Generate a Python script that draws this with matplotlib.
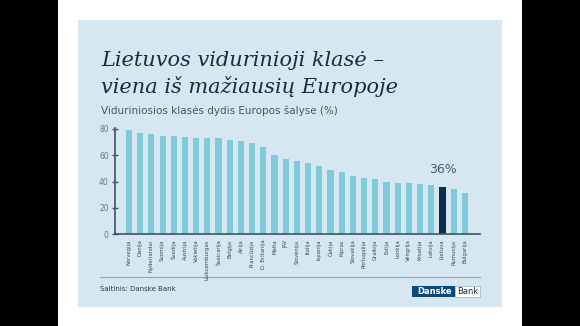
import matplotlib
matplotlib.use("Agg")
import matplotlib.pyplot as plt
from matplotlib.patches import Rectangle

W, H = 580, 326

# data
countries = ["Norvegija", "Danija", "Nyderlandai", "Suomija", "Švedija", "Austrija",
             "Vokietija", "Liuksemburgas", "Šveicarija", "Belgija", "Airija", "Prancūzija",
             "D. Britanija", "Malta", "JAV", "Slovėnija", "Italija", "Ispanija", "Čekija",
             "Kipras", "Slovakija", "Portugalija", "Graikija", "Estija", "Lenkija",
             "Vengrija", "Kroatija", "Latvija", "Lietuva", "Rumunija", "Bulgarija"]
values = [79, 77, 76, 75, 75, 74, 73, 73, 73, 72, 71, 69, 66, 60, 57, 56, 54, 52,
          49, 47, 44, 43, 42, 40, 39, 39, 38, 37, 36, 34, 31]
highlight = "Lietuva"
yticks = [0, 20, 40, 60, 80]

panel = "#d7e7f1"
bar_c = "#7fcbdc"
dark = "#0c2d4e"
axis_c = "#3d5369"

def px(x, y, w, h):
    # pixel box (top-left origin) -> figure fraction
    return (x / W, 1 - (y + h) / H, w / W, h / H)

fig = plt.figure(figsize=(W / 100, H / 100), dpi=100, facecolor="white")

# black side bars + light panel
for (x, y, w, h, c) in [(0, 0, 58, H, "black"), (522, 0, 58, H, "black"),
                        (78, 20, 424, 287, panel)]:
    l, b, ww, hh = px(x, y, w, h)
    fig.patches.append(Rectangle((l, b), ww, hh, transform=fig.transFigure,
                                 facecolor=c, edgecolor="none", zorder=-5))

# title
fig.text(101 / W, 1 - 66 / H, "Lietuvos vidurinioji klasė –", fontsize=15,
         family="DejaVu Serif", style="italic", color="#1c2b3f", va="baseline")
fig.text(101 / W, 1 - 93 / H, "viena iš mažiausių Europoje", fontsize=15,
         family="DejaVu Serif", style="italic", color="#1c2b3f", va="baseline")
fig.text(101 / W, 1 - 111 / H, "Viduriniosios klasės dydis Europos šalyse (%)",
         fontsize=7.5, color="#46566a", va="center")

ax = fig.add_axes(px(115, 129, 365, 105))
ax.set_zorder(5)
ax.set_facecolor("none")
xs = list(range(len(countries)))
colors = [dark if c == highlight else bar_c for c in countries]
ax.bar(xs, values, width=0.55, color=colors, zorder=2)
ax.set_xlim(-1.25, len(countries) - 1 + 1.35)
ax.set_ylim(0, 80)
ax.set_yticks(yticks)
ax.set_yticklabels([str(t) for t in yticks], fontsize=5.5, color="#66768a")
ax.set_xticks(xs)
ax.set_xticklabels(countries, rotation=90, fontsize=3.8, color="#3a4a5a")
ax.tick_params(axis="y", direction="inout", length=5, width=1, color=axis_c, pad=2)
ax.tick_params(axis="x", length=0, pad=4)
for s in ["top", "right"]:
    ax.spines[s].set_visible(False)
for s in ["left", "bottom"]:
    ax.spines[s].set_color(axis_c)
    ax.spines[s].set_linewidth(1.2)
ax.spines["left"].set_bounds(0, 81)
ax.spines["left"].set_clip_on(False)

hi = countries.index(highlight)
ax.annotate(f"{values[hi]}%", (hi, values[hi]), xytext=(0, 8), textcoords="offset points",
            ha="center", va="bottom", fontsize=9, color="#4a5a6c")

# footer
fig.add_artist(plt.Line2D([100 / W, 480 / W], [1 - 277 / H, 1 - 277 / H],
                          color="#8fa3b5", lw=0.8))
fig.text(100 / W, 1 - 289 / H, "Šaltinis: Danske Bank", fontsize=5, color="#2a3a4a",
         va="center")
l, b, ww, hh = px(412, 286, 43, 11)
fig.patches.append(Rectangle((l, b), ww, hh, transform=fig.transFigure,
                             facecolor="#0a4a7a", edgecolor="none"))
l2, b2, ww2, hh2 = px(455, 286, 25, 11)
fig.patches.append(Rectangle((l2, b2), ww2, hh2, transform=fig.transFigure,
                             facecolor="white", edgecolor="#9ab0c0", lw=0.5))
fig.text(452 / W, 1 - 291.5 / H, "Danske", fontsize=6, color="white", ha="right",
         va="center", weight="bold")
fig.text(467.5 / W, 1 - 291.5 / H, "Bank", fontsize=6, color="#1a2a3a", ha="center",
         va="center")

fig.savefig("out.png", dpi=100, facecolor="white")
